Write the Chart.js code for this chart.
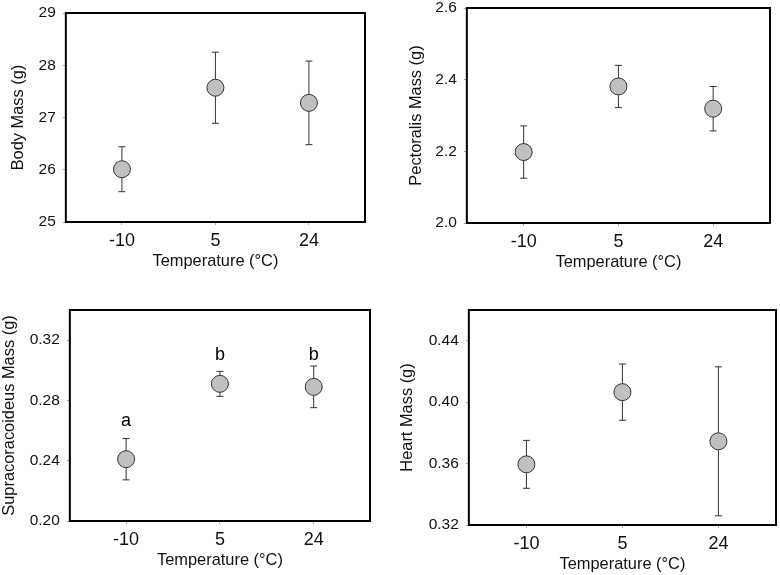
<!DOCTYPE html>
<html>
<head>
<meta charset="utf-8">
<script src="https://cdn.jsdelivr.net/npm/chart.js@4.4.1/dist/chart.umd.min.js"></script>
<style>
  html, body { margin: 0; padding: 0; background: #fff; width: 780px; height: 575px; overflow: hidden; position: relative; }
  canvas { position: absolute; }
</style>
</head>
<body>
<script>
// data
const temperatures = ['-10', '5', '24'];

const bodyMass = [26.01, 27.57, 27.28];
const bodyMassSE = [0.43, 0.68, 0.80];
const bodyMassTicks = [25, 26, 27, 28, 29];

const pectoralisMass = [2.198, 2.381, 2.319];
const pectoralisSE = [0.073, 0.059, 0.062];
const pectoralisTicks = [2.0, 2.2, 2.4, 2.6];

const supraMass = [0.241, 0.291, 0.289];
const supraSE = [0.0137, 0.0083, 0.0138];
const supraTicks = [0.20, 0.24, 0.28, 0.32];
const supraLetters = ['a', 'b', 'b'];
const supraLetterY = [0.263, 0.307, 0.307];

const heartMass = [0.3595, 0.4065, 0.3745];
const heartSE = [0.0156, 0.0183, 0.0485];
const heartTicks = [0.32, 0.36, 0.40, 0.44];

const FONT = 'Arial, "Liberation Sans", sans-serif';
Chart.defaults.font.family = FONT;
Chart.defaults.color = '#111';

const panels = [
  { title: 'Body Mass (g)', values: bodyMass, se: bodyMassSE, ticks: bodyMassTicks, min: 25, max: 29, dec: 0,
    plot: { l: 66, t: 13, r: 366, b: 222 }, titleX: 19 },
  { title: 'Pectoralis Mass (g)', values: pectoralisMass, se: pectoralisSE, ticks: pectoralisTicks, min: 2.0, max: 2.6, dec: 1,
    plot: { l: 467, t: 8, r: 771, b: 223 }, titleX: 417 },
  { title: 'Supracoracoideus Mass (g)', values: supraMass, se: supraSE, ticks: supraTicks, min: 0.20, max: 0.34, dec: 2,
    plot: { l: 70, t: 310, r: 371, b: 521 }, titleX: 10, letters: supraLetters, letterY: supraLetterY },
  { title: 'Heart Mass (g)', values: heartMass, se: heartSE, ticks: heartTicks, min: 0.32, max: 0.46, dec: 2,
    plot: { l: 469, t: 310, r: 777, b: 525 }, titleX: 408 }
];

const padTop = 18;
const padRight = 3;
const xAxisHeight = 52;
const titleSize = 16.4;
const titleHalf = titleSize * 1.2 / 2;

// error bars, significance letters and the box around the plot
const panelExtras = {
  id: 'panelExtras',
  beforeDatasetsDraw(chart, args, opts) {
    const { ctx, scales: { x, y } } = chart;
    ctx.save();
    ctx.strokeStyle = '#333';
    ctx.lineWidth = 1;
    opts.values.forEach((v, i) => {
      const px = x.getPixelForValue(i);
      const top = y.getPixelForValue(v + opts.se[i]);
      const bot = y.getPixelForValue(v - opts.se[i]);
      ctx.beginPath();
      ctx.moveTo(px, top);
      ctx.lineTo(px, bot);
      ctx.moveTo(px - 3.5, top);
      ctx.lineTo(px + 3.5, top);
      ctx.moveTo(px - 3.5, bot);
      ctx.lineTo(px + 3.5, bot);
      ctx.stroke();
    });
    ctx.restore();
  },
  afterDraw(chart, args, opts) {
    const { ctx, chartArea: a, scales: { x, y } } = chart;
    ctx.save();
    if (opts.letters) {
      ctx.fillStyle = '#000';
      ctx.font = '18px ' + FONT;
      ctx.textAlign = 'center';
      ctx.textBaseline = 'alphabetic';
      opts.letters.forEach((t, i) => {
        ctx.fillText(t, x.getPixelForValue(i), y.getPixelForValue(opts.letterY[i]));
      });
    }
    ctx.strokeStyle = '#000';
    ctx.lineWidth = 2;
    ctx.strokeRect(a.left, a.top, a.right - a.left, a.bottom - a.top);
    ctx.restore();
  }
};

panels.forEach(p => {
  const left = p.titleX - titleHalf - 1;
  const top = p.plot.t - padTop;
  const width = p.plot.r + padRight - left;
  const height = padTop + (p.plot.b - p.plot.t) + xAxisHeight;

  const canvas = document.createElement('canvas');
  canvas.width = width;
  canvas.height = height;
  canvas.style.left = left + 'px';
  canvas.style.top = top + 'px';
  document.body.appendChild(canvas);

  new Chart(canvas.getContext('2d'), {
    type: 'scatter',
    data: {
      datasets: [{
        data: p.values.map((v, i) => ({ x: i, y: v })),
        pointRadius: 8.5,
        pointHoverRadius: 8.5,
        pointBackgroundColor: '#c0c0c0',
        pointBorderColor: '#333',
        pointBorderWidth: 1
      }]
    },
    options: {
      responsive: false,
      animation: false,
      events: [],
      layout: { autoPadding: false, padding: { top: padTop, right: padRight, left: 0, bottom: 0 } },
      plugins: {
        legend: { display: false },
        tooltip: { enabled: false },
        panelExtras: { values: p.values, se: p.se, letters: p.letters, letterY: p.letterY }
      },
      scales: {
        x: {
          type: 'linear',
          min: -0.6,
          max: 2.6,
          afterBuildTicks: s => { s.ticks = temperatures.map((_, i) => ({ value: i })); },
          afterFit: s => { s.height = xAxisHeight; },
          ticks: {
            callback: v => temperatures[v],
            font: { size: 18 },
            color: '#111',
            padding: 5,
            maxRotation: 0
          },
          grid: { drawOnChartArea: false, drawTicks: true, tickLength: 3, color: '#aaa' },
          border: { display: false },
          title: { display: true, text: 'Temperature (°C)', font: { size: titleSize }, color: '#111', padding: { top: 0, bottom: 3 } }
        },
        y: {
          min: p.min,
          max: p.max,
          afterBuildTicks: s => { s.ticks = p.ticks.map(v => ({ value: v })); },
          afterFit: s => { s.width = p.plot.l - left; },
          ticks: {
            callback: v => v.toFixed(p.dec),
            font: { size: 15.5 },
            color: '#111',
            padding: 7
          },
          grid: { drawOnChartArea: false, drawTicks: true, tickLength: 3, color: '#aaa' },
          border: { display: false },
          title: { display: true, text: p.title, font: { size: titleSize }, color: '#111', padding: { top: 1, bottom: 0 } }
        }
      }
    },
    plugins: [panelExtras]
  });
});
</script>
</body>
</html>
